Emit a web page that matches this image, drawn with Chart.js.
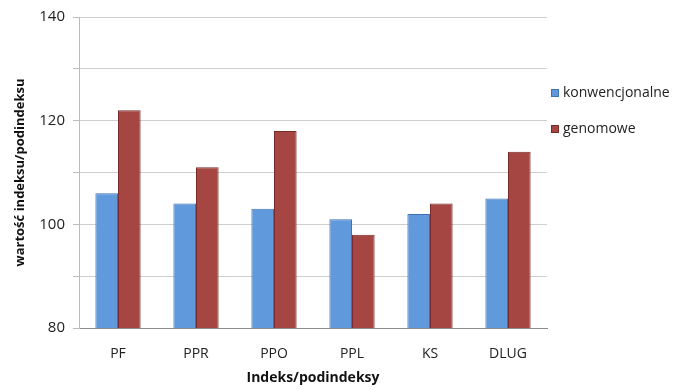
<!DOCTYPE html>
<html>
<head>
<meta charset="utf-8">
<script src="https://cdn.jsdelivr.net/npm/chart.js@4.4.0/dist/chart.umd.min.js"></script>
<style>
  html, body { margin: 0; padding: 0; background: #fff; }
  #wrap { width: 681px; height: 390px; }
</style>
</head>
<body>
<div id="wrap"><canvas id="chart" width="681" height="390"></canvas></div>
<script>
const categories = ["PF", "PPR", "PPO", "PPL", "KS", "DLUG"];
const konwencjonalne = [106, 104, 103, 101, 102, 105];
const genomowe = [122, 111, 118, 98, 104, 114];
const seriesNames = ["konwencjonalne", "genomowe"];

const FONT = "'Open Sans', 'DejaVu Sans', sans-serif";

// legend drawn by hand to the right of the plot area
const sideLegend = {
  id: "sideLegend",
  afterDraw(chart) {
    const ctx = chart.ctx;
    const x = chart.chartArea.right + 4;
    const rows = [93, 129];
    ctx.save();
    ctx.font = "14px " + FONT;
    ctx.textBaseline = "middle";
    chart.data.datasets.forEach((ds, i) => {
      const y = rows[i];
      ctx.fillStyle = ds.backgroundColor;
      ctx.fillRect(x, y - 4, 8, 8);
      ctx.strokeStyle = ds.borderColor;
      ctx.lineWidth = 1;
      ctx.strokeRect(x + 0.5, y - 3.5, 7, 7);
      ctx.fillStyle = "#222";
      ctx.fillText(ds.label, x + 12, y);
    });
    ctx.restore();
  }
};

new Chart(document.getElementById("chart").getContext("2d"), {
  type: "bar",
  data: {
    labels: categories,
    datasets: [
      {
        label: seriesNames[0],
        data: konwencjonalne,
        backgroundColor: "#6199dd",
        borderColor: "#3f72b0",
        borderWidth: 1
      },
      {
        label: seriesNames[1],
        data: genomowe,
        backgroundColor: "#a54643",
        borderColor: "#7a2a28",
        borderWidth: 1
      }
    ]
  },
  options: {
    responsive: false,
    animation: false,
    events: [],
    layout: { padding: { top: 16, right: 134, left: 0, bottom: 0 } },
    datasets: {
      bar: { categoryPercentage: 0.58, barPercentage: 1.0 }
    },
    plugins: {
      legend: { display: false },
      tooltip: { enabled: false }
    },
    scales: {
      x: {
        grid: { display: false, drawTicks: false },
        border: { color: "#8c8c8c" },
        ticks: { color: "#222", font: { family: FONT, size: 14 }, padding: 18 },
        title: {
          display: true,
          text: "Indeks/podindeksy",
          color: "#111",
          font: { family: FONT, size: 14, weight: "bold" },
          padding: { top: 8 }
        },
        afterFit(scale) { scale.height = 62; }
      },
      y: {
        min: 80,
        max: 140,
        ticks: {
          stepSize: 10,
          color: "#222",
          font: { family: FONT, size: 15 },
          padding: 8,
          callback: (v) => (v % 20 === 0 ? v : "")
        },
        grid: { color: "#cfcfcf", tickLength: 6, tickColor: "#bbb" },
        border: { color: "#bbbbbb" },
        title: {
          display: true,
          text: "wartość indeksu/podindeksu",
          color: "#111",
          font: { family: FONT, size: 13, weight: "bold" },
          padding: { top: 12, bottom: 4 }
        },
        afterFit(scale) { scale.width = 79; }
      }
    }
  },
  plugins: [sideLegend]
});
</script>
</body>
</html>
